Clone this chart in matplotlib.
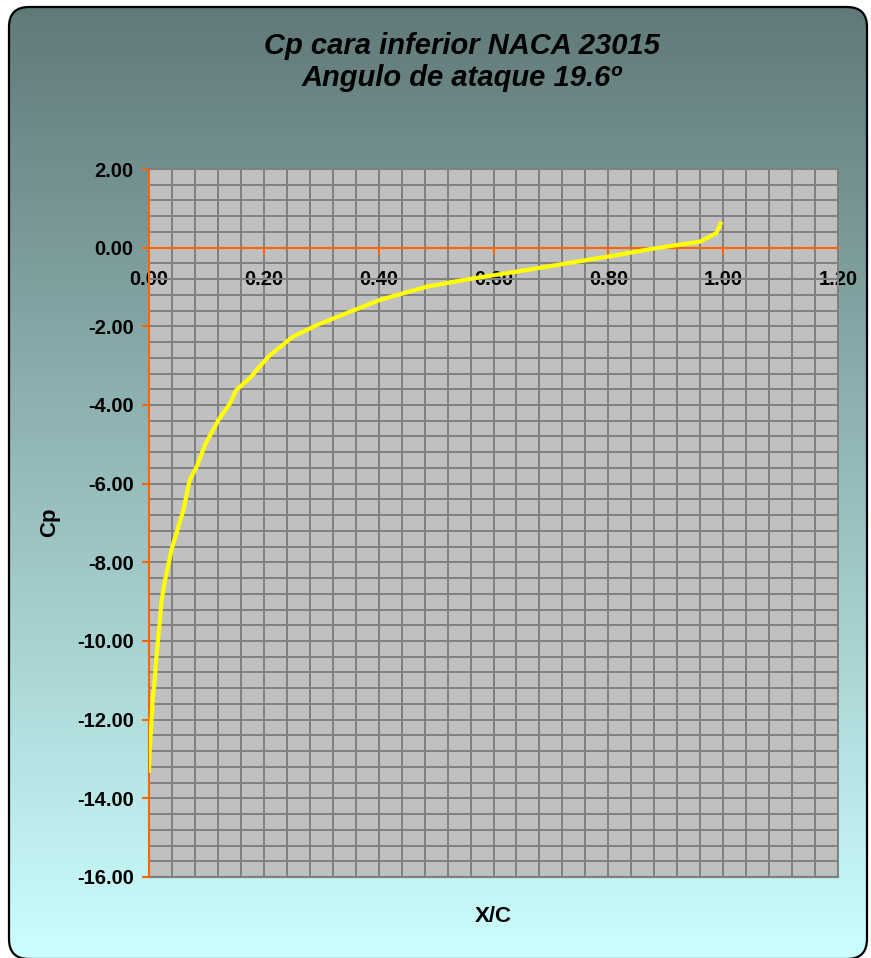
import numpy as np
import matplotlib
matplotlib.use('Agg')
import matplotlib.pyplot as plt
from matplotlib.patches import FancyBboxPatch
from matplotlib.ticker import MultipleLocator, FormatStrFormatter

plt.rcParams['font.family'] = ['Liberation Sans', 'DejaVu Sans']

# lower-surface pressure coefficient, NACA 23015, alpha = 19.6 deg
x_c = [0.0, 0.0005, 0.0047, 0.0064, 0.010, 0.012, 0.019, 0.022, 0.028, 0.039,
       0.060, 0.071, 0.083, 0.098, 0.121, 0.141, 0.152, 0.176, 0.193, 0.208,
       0.222, 0.251, 0.292, 0.350, 0.402, 0.484, 0.565, 0.640, 0.727, 0.814,
       0.872, 0.907, 0.959, 0.988, 0.997]
cp = [-13.35, -12.94, -11.93, -11.50, -10.99, -10.57, -9.47, -8.96, -8.45, -7.69,
      -6.67, -5.90, -5.57, -5.00, -4.38, -3.96, -3.62, -3.31, -3.02, -2.77,
      -2.60, -2.26, -1.97, -1.63, -1.33, -0.99, -0.78, -0.61, -0.40, -0.19,
      -0.04, 0.04, 0.15, 0.37, 0.66]

title = 'Cp cara inferior NACA 23015\nAngulo de ataque 19.6º'
xlabel = 'X/C'
ylabel = 'Cp'

W, H = 871, 958
ORANGE = '#FF6600'
GRID = '#808080'

fig = plt.figure(figsize=(W / 100, H / 100), dpi=100)
fig.patch.set_facecolor('white')

# background: rounded panel with vertical gradient
bg = fig.add_axes([0, 0, 1, 1])
bg.set_xlim(0, W); bg.set_ylim(H, 0); bg.axis('off')
top = np.array([96, 120, 120]) / 255
bot = np.array([204, 255, 255]) / 255
t = np.linspace(0, 1, 256)[:, None]
grad = top + (bot - top) * t
img = bg.imshow(grad[:, None, :].repeat(2, axis=1), extent=[0, W, H, 0],
                aspect='auto', zorder=0)
panel = FancyBboxPatch((9 + 20, 7 + 20), W - 9 - 4 - 40, H - 7 + 1 - 40,
                       boxstyle='round,pad=20', fc='none', ec='black', lw=1.6,
                       zorder=1)
bg.add_patch(panel)
img.set_clip_path(panel)

# plot area
ax = fig.add_axes([149 / W, 1 - 877 / H, (838 - 149) / W, (877 - 169) / H])
ax.set_facecolor('#C0C0C0')
ax.plot(x_c, cp, color='#FFFF00', lw=3, zorder=3, solid_capstyle='butt')

ax.set_xlim(0, 1.2)
ax.set_ylim(-16, 2)
ax.xaxis.set_major_locator(MultipleLocator(0.2))
ax.xaxis.set_minor_locator(MultipleLocator(0.04))
ax.yaxis.set_major_locator(MultipleLocator(2))
ax.yaxis.set_minor_locator(MultipleLocator(0.4))
ax.xaxis.set_major_formatter(FormatStrFormatter('%.2f'))
ax.yaxis.set_major_formatter(FormatStrFormatter('%.2f'))
ax.grid(True, which='both', color=GRID, lw=1.4, zorder=1)
ax.set_axisbelow(True)

ax.spines['bottom'].set_position(('data', 0))
ax.spines['bottom'].set_color(ORANGE)
ax.spines['left'].set_color(ORANGE)
for s in ('bottom', 'left'):
    ax.spines[s].set_linewidth(1.5)
    ax.spines[s].set_zorder(2.5)
for s in ('top', 'right'):
    ax.spines[s].set_color(GRID)
    ax.spines[s].set_linewidth(1.4)
ax.axhline(-16, color=GRID, lw=1.6, clip_on=False, zorder=2)

ax.tick_params(which='minor', length=0)
ax.tick_params(axis='y', which='major', direction='out', length=5, width=1.5,
               color=ORANGE, labelsize=14.5, pad=6)
ax.tick_params(axis='x', which='major', direction='out', length=5, width=1.5,
               color=ORANGE, labelsize=14.5, pad=11)
for lab in ax.get_xticklabels() + ax.get_yticklabels():
    lab.set_fontweight('bold')

fig.text(462 / W, 1 - 62 / H, title, ha='center', va='center', fontsize=21,
         fontweight='bold', style='italic', linespacing=1.22)
fig.text(50 / W, 1 - 522 / H, ylabel, ha='center', va='center', rotation=90,
         fontsize=16, fontweight='bold')
fig.text(493 / W, 1 - 917 / H, xlabel, ha='center', va='center',
         fontsize=16, fontweight='bold')

fig.savefig('out.png', dpi=100)
